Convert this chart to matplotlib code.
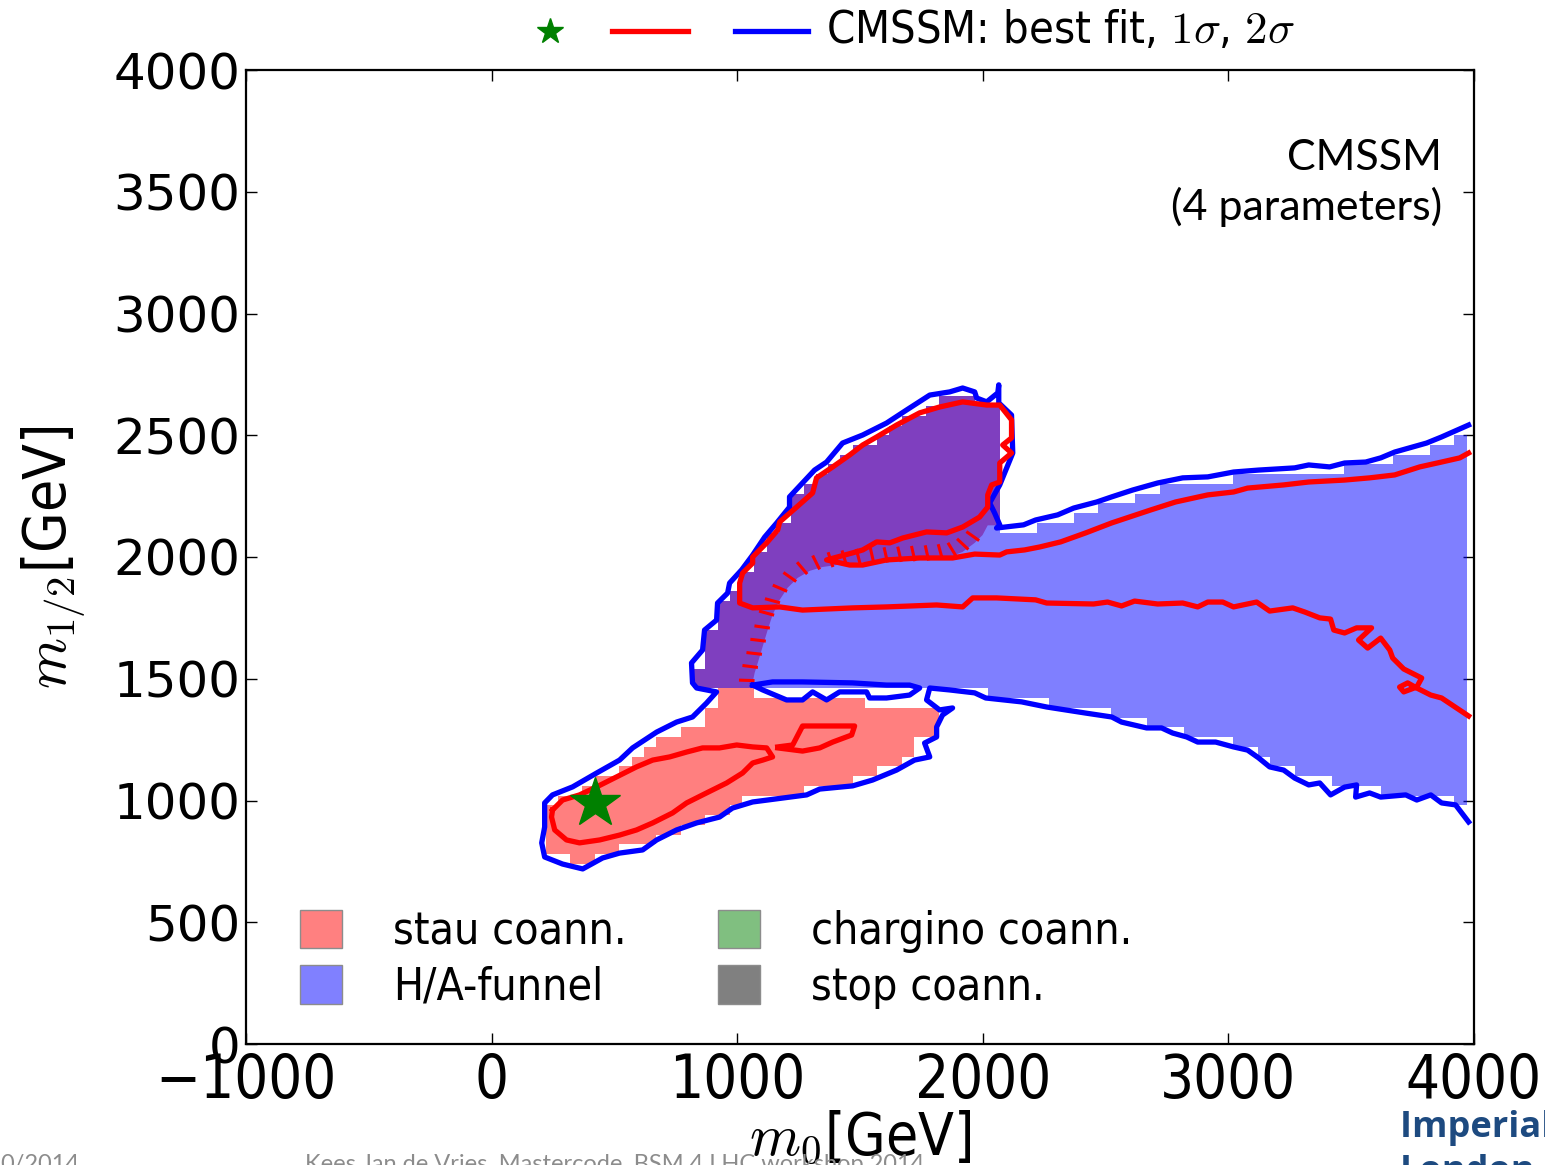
import numpy as np
import matplotlib
matplotlib.use("Agg")
import matplotlib.pyplot as plt
from matplotlib import patheffects, font_manager as fm
from matplotlib.patches import Patch, Polygon
from matplotlib.lines import Line2D

plt.rcParams['mathtext.fontset'] = 'cm'

# ---------------------------------------------------------------- data (GeV)
best_fit_m0 = 420
best_fit_m12 = 990

cell_dx = 50          # m0 width of one histogram cell

# stau co-annihilation band (lower part); one entry per m0 column
stau_band_x0 = 220
stau_band_lo = [780, 780, 740, 740, 780, 780, 820, 820, 820, 860, 860, 900, 900, 940, 940, 980,
                1020, 1020, 1020, 1020, 1020, 1060, 1060, 1060, 1060, 1100, 1100, 1140, 1140, 1180,
                1260, 1260]
stau_band_hi = [980, 1020, 1020, 1060, 1100, 1100, 1140, 1180, 1220, 1260, 1260, 1300, 1300, 1380,
                1460, 1460, 1460, 1420, 1420, 1420, 1420, 1420, 1420, 1420, 1420, 1420, 1380, 1380,
                1380, 1380, 1380, 1380]

# stau co-annihilation blob overlapping the funnel (upper part)
stau_blob_x0 = 820
stau_blob_lo = 1460
stau_blob_hi = [1540, 1700, 1820, 1860, 1940, 2020, 2100, 2140, 2260, 2300, 2340, 2380, 2420, 2460,
                2460, 2500, 2540, 2580, 2580, 2620, 2660, 2660, 2660, 2620, 2620]

# H/A funnel region
funnel_x0 = 820
funnel_lo = [1460, 1460, 1460, 1460, 1460, 1460, 1460, 1460, 1460, 1460, 1460, 1460, 1460, 1460,
             1460, 1460, 1460, 1460, 1460, 1460, 1460, 1460, 1460, 1460,
             1420, 1420, 1420, 1420, 1420, 1380, 1380, 1380, 1380, 1380, 1340, 1340, 1340,
             1300, 1300, 1300, 1260, 1260, 1260, 1260, 1220, 1220, 1180, 1140, 1140,
             1100, 1100, 1100, 1060, 1060, 1060, 1060, 1020, 1020, 1020, 1020, 1020, 1020, 980]
funnel_hi_right = [2100, 2100, 2100, 2140, 2140, 2140, 2180, 2180, 2220, 2220, 2220, 2260, 2260,
                   2300, 2300, 2300, 2300, 2300, 2300, 2340, 2340, 2340, 2340, 2340, 2340, 2340,
                   2340, 2340, 2380, 2380, 2380, 2380, 2420, 2420, 2420, 2460, 2460, 2500]

# 2 sigma contour (blue)
sig2_m0 = [3978, 3868, 3807, 3677, 3620, 3559, 3473, 3412, 3327, 3270, 3123, 3021, 2916, 2814,
           2712, 2610, 2525, 2464, 2370, 2305, 2215, 2166, 2056, 2069, 2048, 2028, 2069, 2122,
           2117, 2065, 2065, 2061, 2016, 1975, 1967, 1918, 1865, 1784, 1690, 1608, 1511, 1429,
           1364, 1315, 1266, 1213, 1213, 1161, 1112, 1063, 1018, 969, 961, 920, 916, 867, 859,
           814, 818, 835, 916, 875, 818, 753, 672, 574, 521, 428, 330, 248, 216, 216, 204, 216,
           289, 371, 452, 521, 615, 672, 753, 835, 928, 981, 1063, 1283, 1336, 1470, 1551,
           1649, 1722, 1784, 1763, 1812, 1812, 1836, 1877, 1824, 1771, 1784, 1865, 1967, 2012,
           2158, 2260, 2419, 2525, 2565, 2667, 2728, 2773, 2830, 2875, 2948, 3021, 3078, 3123,
           3168, 3225, 3270, 3327, 3372, 3416, 3473, 3522, 3518, 3575, 3620, 3722, 3767, 3824,
           3868, 3925, 3978]
sig2_m12 = [2542, 2493, 2468, 2431, 2407, 2390, 2386, 2370, 2378, 2366, 2357, 2349, 2329, 2325,
            2304, 2275, 2247, 2226, 2201, 2173, 2152, 2132, 2119, 2132, 2181, 2222, 2296, 2427,
            2583, 2633, 2707, 2674, 2637, 2653, 2678, 2694, 2678, 2665, 2604, 2550, 2501, 2468,
            2390, 2357, 2304, 2247, 2205, 2140, 2082, 2008, 1947, 1893, 1852, 1811, 1741, 1700,
            1618, 1565, 1483, 1462, 1446, 1400, 1343, 1322, 1281, 1216, 1166, 1113, 1056, 1023,
            990, 891, 826, 768, 739, 719, 764, 784, 797, 838, 879, 908, 932, 969, 994, 1023,
            1047, 1060, 1084, 1125, 1166, 1179, 1236, 1261, 1302, 1351, 1380, 1372, 1413, 1462,
            1454, 1442, 1421, 1405, 1384, 1359, 1343, 1322, 1298, 1298, 1277, 1261, 1240, 1240,
            1220, 1207, 1175, 1138, 1125, 1092, 1064, 1072, 1023, 1055, 1064, 1014, 1031, 1014,
            1023, 1002, 1023, 990, 982, 912]

# small closed 2 sigma island
sig2_island_m0 = [1063, 1144, 1266, 1470, 1608, 1702, 1743, 1702, 1608, 1539, 1527, 1417, 1364,
                  1307, 1266, 1201, 1104, 1063]
sig2_island_m12 = [1474, 1487, 1487, 1483, 1474, 1474, 1462, 1433, 1421, 1421, 1446, 1446, 1413,
                   1446, 1413, 1413, 1454, 1474]

# 1 sigma contours (red)
sig1_stau_m0 = [248, 289, 358, 428, 509, 590, 656, 725, 794, 859, 928, 998, 1063, 1120, 1144, 1104,
                1063, 1022, 957, 875, 794, 737, 656, 590, 521, 440, 358, 305, 257, 244, 248]
sig1_stau_m12 = [961, 1002, 1023, 1056, 1097, 1138, 1166, 1179, 1199, 1216, 1216, 1228, 1220, 1216,
                 1179, 1166, 1154, 1113, 1072, 1031, 990, 949, 908, 879, 858, 838, 826, 838, 879,
                 932, 961]
sig1_small_m0 = [1165, 1226, 1262, 1266, 1478, 1466, 1389, 1336, 1266, 1165]
sig1_small_m12 = [1220, 1228, 1298, 1306, 1306, 1269, 1240, 1216, 1203, 1216]

sig1_main_m0 = [3978, 3942, 3868, 3779, 3677, 3575, 3473, 3327, 3225, 3078, 3021, 2916, 2785, 2683,
                2525, 2419, 2317, 2231, 2170, 2097, 2069, 1967, 1877, 1743, 1608, 1511, 1458, 1364,
                1470, 1511, 1568, 1621, 1674, 1771, 1853, 1918, 1987, 2020, 2020, 2036, 2069, 2069,
                2117, 2081, 2117, 2117, 2069, 2016, 1918, 1824, 1743, 1649, 1568, 1511, 1458, 1389,
                1323, 1307, 1242, 1173, 1165, 1120, 1063, 1063, 1022, 1010, 1010, 1063, 1173, 1266,
                1470, 1608, 1812, 1918, 1959, 2056, 2215, 2260, 2451, 2508, 2565, 2618, 2712, 2814,
                2875, 2916, 2977, 3021, 3115, 3168, 3262, 3311, 3372, 3416, 3429, 3473, 3522, 3583,
                3530, 3567, 3620, 3657, 3669, 3714, 3787, 3767, 3714, 3697, 3730, 3767, 3824, 3868,
                3978]
sig1_main_m12 = [2427, 2407, 2390, 2370, 2337, 2325, 2316, 2308, 2296, 2283, 2267, 2255, 2226, 2193,
                 2140, 2099, 2062, 2041, 2029, 2021, 2008, 2012, 1996, 1996, 1988, 1967, 1967, 1988,
                 2017, 2029, 2062, 2058, 2078, 2103, 2099, 2123, 2164, 2205, 2255, 2296, 2308, 2386,
                 2427, 2460, 2489, 2563, 2624, 2624, 2637, 2616, 2592, 2542, 2493, 2460, 2419, 2370,
                 2325, 2263, 2205, 2144, 2111, 2058, 2000, 1975, 1934, 1893, 1811, 1791, 1795, 1782,
                 1791, 1795, 1803, 1795, 1832, 1832, 1824, 1811, 1807, 1815, 1799, 1819, 1807, 1811,
                 1795, 1815, 1815, 1795, 1815, 1778, 1791, 1774, 1750, 1745, 1700, 1688, 1709, 1709,
                 1659, 1626, 1667, 1618, 1585, 1540, 1503, 1466, 1446, 1466, 1483, 1462, 1433, 1421,
                 1347]

# boundary of the stau region inside the funnel (ticked red line)
edge_m0 = [1059, 1071, 1091, 1108, 1124, 1144, 1173, 1205, 1246, 1295, 1348, 1405, 1470, 1539,
           1621, 1702, 1784, 1865, 1918, 1967, 1999]
edge_m12 = [1466, 1524, 1589, 1647, 1700, 1762, 1824, 1873, 1914, 1943, 1959, 1967, 1975, 1980,
            1984, 1988, 1992, 2000, 2021, 2058, 2090]

x_ticks = [-1000, 0, 1000, 2000, 3000, 4000]
x_tick_labels = ['\u22121000', '0', '1000', '2000', '3000', '4000']
y_ticks = [0, 500, 1000, 1500, 2000, 2500, 3000, 3500, 4000]
y_tick_labels = ['0', '500', '1000', '1500', '2000', '2500', '3000', '3500', '4000']

legend_labels = ['stau coann.', 'H/A-funnel', 'chargino coann.', 'stop coann.']

# ---------------------------------------------------------------- fonts
def find_condensed():
    for f in fm.fontManager.ttflist:
        fn = f.fname.lower().replace('-', '')
        if 'dejavusanscondensed' in fn and 'bold' not in fn and 'oblique' not in fn:
            return f.fname
    for f in fm.fontManager.ttflist:
        if f.name == 'Liberation Sans Narrow' and f.style == 'normal' and f.weight in (400, 'normal', 'regular'):
            return f.fname
    return None


COND = find_condensed()


def cprop(size):
    if COND:
        return fm.FontProperties(fname=COND, size=size)
    return fm.FontProperties(family='Liberation Sans', size=size)


# ---------------------------------------------------------------- figure
W, H = 1545, 1165
fig = plt.figure(figsize=(W / 100, H / 100), dpi=100)
ax = fig.add_axes([246 / W, 1 - 1044 / H, 1228 / W, 974 / H])

RED_A = (1.0, 0.0, 0.0, 0.5)
BLUE_A = (0.0, 0.0, 1.0, 0.5)


def step_arrays(x0, lo, hi):
    hi = np.asarray(hi, dtype=float)
    n = len(hi)
    lo = np.broadcast_to(np.asarray(lo, dtype=float), (n,))
    xe = x0 + cell_dx * np.arange(n + 1)
    return xe, np.append(lo, lo[-1]), np.append(hi, hi[-1])


# stau band
xe, lo, hi = step_arrays(stau_band_x0, stau_band_lo, stau_band_hi)
ax.fill_between(xe, lo, hi, step='post', facecolor=RED_A, linewidth=0, zorder=1)

# stau blob, bounded below by the ticked boundary
xe, lo, hi = step_arrays(stau_blob_x0, stau_blob_lo, stau_blob_hi)
blob = ax.fill_between(xe, lo, hi, step='post', facecolor=RED_A, linewidth=0, zorder=1)
clip_x = edge_m0 + [2020, 2075, 2075, 780, 780, 1059]
clip_y = edge_m12 + [2130, 2130, 2800, 2800, 1440, 1440]
clip_patch = Polygon(np.column_stack([clip_x, clip_y]), closed=True,
                     transform=ax.transData, facecolor='none', edgecolor='none')
blob.set_clip_path(clip_patch)

# funnel
funnel_hi = list(stau_blob_hi) + list(funnel_hi_right)
xe, lo, hi = step_arrays(funnel_x0, funnel_lo, funnel_hi)
ax.fill_between(xe, lo, hi, step='post', facecolor=BLUE_A, linewidth=0, zorder=2)

# contours
LW = 3.8
ax.plot(sig2_m0, sig2_m12, color='blue', lw=LW, zorder=4, solid_joinstyle='round')
ax.plot(sig2_island_m0, sig2_island_m12, color='blue', lw=LW, zorder=4, solid_joinstyle='round')
ax.plot(sig1_stau_m0, sig1_stau_m12, color='red', lw=LW, zorder=5, solid_joinstyle='round')
ax.plot(sig1_small_m0, sig1_small_m12, color='red', lw=LW, zorder=5, solid_joinstyle='round')
ax.plot(sig1_main_m0, sig1_main_m12, color='red', lw=LW, zorder=5, solid_joinstyle='round')
ax.plot(edge_m0, edge_m12, color='red', lw=2.2, zorder=5,
        path_effects=[patheffects.TickedStroke(spacing=9.5, angle=100, length=0.95)])

ax.plot([best_fit_m0], [best_fit_m12], marker='*', ms=38, color='green', mec='green',
        linestyle='none', zorder=8)

# axes styling
ax.set_xlim(-1000, 4000)
ax.set_ylim(0, 4000)
ax.set_xticks(x_ticks)
ax.set_xticklabels(x_tick_labels, fontproperties=cprop(43))
ax.set_yticks(y_ticks)
ax.set_yticklabels(y_tick_labels, fontproperties=fm.FontProperties(family='DejaVu Sans', size=36))
ax.tick_params(direction='in', length=8, width=1, top=True, right=True, colors='black')
ax.tick_params(axis='x', pad=6)
ax.tick_params(axis='y', pad=4)
for s in ax.spines.values():
    s.set_linewidth(1.6)

ax.set_xlabel(r'$m_0$[GeV]', fontproperties=cprop(42), labelpad=-2)
ax.set_ylabel(r'$m_{1/2}$[GeV]', fontproperties=cprop(42), labelpad=18)

ax.text(0.974, 0.884, 'CMSSM\n(4 parameters)', transform=ax.transAxes, ha='right', va='center',
        multialignment='right', family='Lato', fontsize=31, linespacing=1.3)

# region legend
handles = [Patch(facecolor=(1, .5, .5), edgecolor='0.55', lw=1),
           Patch(facecolor=(.5, .5, 1), edgecolor='0.55', lw=1),
           Patch(facecolor=(.5, .75, .5), edgecolor='0.55', lw=1),
           Patch(facecolor=(.5, .5, .5), edgecolor='0.55', lw=1)]
ax.legend(handles, legend_labels, ncol=2, loc='lower left', bbox_to_anchor=(0.044, 0.036),
          frameon=False, prop=cprop(32), handlelength=0.95, handleheight=0.95,
          handletextpad=1.15, columnspacing=2.05, labelspacing=0.28, borderpad=0,
          borderaxespad=0)

# contour key above the axes
ky = 1 - 31 / H
fig.add_artist(Line2D([550 / W], [ky], marker='*', ms=19, color='green', mec='green',
                      linestyle='none', transform=fig.transFigure))
fig.add_artist(Line2D([612 / W, 688 / W], [ky, ky], color='red', lw=LW, transform=fig.transFigure))
fig.add_artist(Line2D([735 / W, 808 / W], [ky, ky], color='blue', lw=LW, transform=fig.transFigure))
fig.text(826 / W, ky, r'CMSSM: best fit, $1\sigma$, $2\sigma$', ha='left', va='center',
         fontproperties=cprop(32.5))

# slide footer remnants
fig.text(0.0, 1 - 1154 / H, '0/2014', ha='left', va='top', color='0.55', family='Lato', fontsize=17)
fig.text(305 / W, 1 - 1154 / H, 'Kees Jan de Vries, Mastercode, BSM 4 LHC workshop 2014',
         ha='left', va='top', color='0.55', family='Lato', fontsize=17)
fig.text(1400 / W, 1 - 1110 / H, 'Imperial College\nLondon', ha='left', va='top',
         color='#1d4a80', family='Open Sans', fontweight='bold', fontsize=26, linespacing=1.3)

fig.savefig('out.png', dpi=100)
